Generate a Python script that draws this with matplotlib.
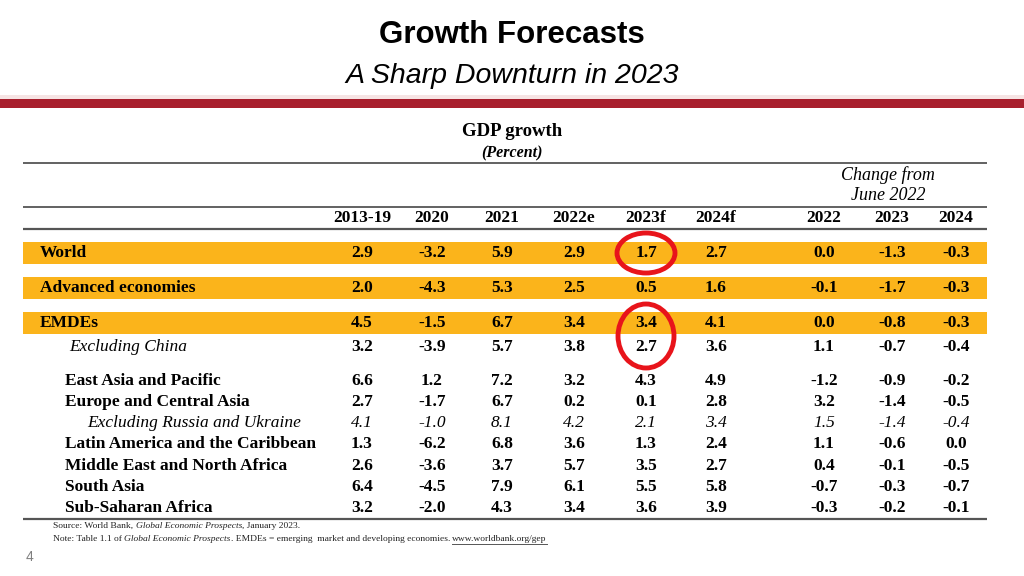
import matplotlib
matplotlib.use("Agg")
import matplotlib.pyplot as plt
from matplotlib.patches import Rectangle, Ellipse

# Table content
col_labels = ["2013-19", "2020", "2021", "2022e", "2023f", "2024f", "2022", "2023", "2024"]
row_labels = [
    "World", "Advanced economies", "EMDEs", "Excluding China",
    "East Asia and Pacific", "Europe and Central Asia", "Excluding Russia and Ukraine",
    "Latin America and the Caribbean", "Middle East and North Africa",
    "South Asia", "Sub-Saharan Africa",
]
values = [
    [2.9, -3.2, 5.9, 2.9, 1.7, 2.7, 0.0, -1.3, -0.3],
    [2.0, -4.3, 5.3, 2.5, 0.5, 1.6, -0.1, -1.7, -0.3],
    [4.5, -1.5, 6.7, 3.4, 3.4, 4.1, 0.0, -0.8, -0.3],
    [3.2, -3.9, 5.7, 3.8, 2.7, 3.6, 1.1, -0.7, -0.4],
    [6.6, 1.2, 7.2, 3.2, 4.3, 4.9, -1.2, -0.9, -0.2],
    [2.7, -1.7, 6.7, 0.2, 0.1, 2.8, 3.2, -1.4, -0.5],
    [4.1, -1.0, 8.1, 4.2, 2.1, 3.4, 1.5, -1.4, -0.4],
    [1.3, -6.2, 6.8, 3.6, 1.3, 2.4, 1.1, -0.6, 0.0],
    [2.6, -3.6, 3.7, 5.7, 3.5, 2.7, 0.4, -0.1, -0.5],
    [6.4, -4.5, 7.9, 6.1, 5.5, 5.8, -0.7, -0.3, -0.7],
    [3.2, -2.0, 4.3, 3.4, 3.6, 3.9, -0.3, -0.2, -0.1],
]
highlighted = ["World", "Advanced economies", "EMDEs"]
italic_rows = ["Excluding China", "Excluding Russia and Ukraine"]

# layout in pixels
col_x = [362, 432, 502, 574, 646, 716, 824, 892, 956]
row_y = [253, 288, 323, 347, 381, 402, 423, 444, 466, 487, 508]
label_x = {"World": 40, "Advanced economies": 40, "EMDEs": 40,
           "Excluding China": 69, "Excluding Russia and Ukraine": 87}

SERIF = ["Liberation Serif", "DejaVu Serif"]
SANS = ["Liberation Sans", "DejaVu Sans"]
ORANGE = "#FBB41B"
DARKRED = "#A81F2D"

fig = plt.figure(figsize=(10.24, 5.76), dpi=100)
ax = fig.add_axes([0, 0, 1, 1])
ax.set_xlim(0, 1024)
ax.set_ylim(576, 0)
ax.axis("off")

# Title block
ax.text(512, 35, "Growth Forecasts", ha="center", va="center", fontsize=22.5,
        fontweight="bold", family=SANS)
ax.text(512, 76, "A Sharp Downturn in 2023", ha="center", va="center", fontsize=20.5,
        style="italic", family=SANS)
ax.add_patch(Rectangle((0, 95), 1024, 4, color="#F6E4E4", lw=0))
ax.add_patch(Rectangle((0, 99), 1024, 9, color=DARKRED, lw=0))

# Table heading
ax.text(512, 131, "GDP growth", ha="center", va="center", fontsize=13.5,
        fontweight="bold", family=SERIF)
ax.text(512, 153, "(Percent)", ha="center", va="center", fontsize=11.5,
        fontweight="bold", style="italic", family=SERIF)
ax.text(888, 175, "Change from", ha="center", va="center", fontsize=13,
        style="italic", family=SERIF)
ax.text(888, 196, "June 2022", ha="center", va="center", fontsize=13,
        style="italic", family=SERIF)

for y, lw in [(163, 1.3), (207, 1.3), (229, 1.6), (519, 1.6)]:
    ax.plot([23, 987], [y, y], color="#555555", lw=lw, solid_capstyle="butt")

for x, lab in zip(col_x, col_labels):
    ax.text(x, 218, lab, ha="center", va="center", fontsize=12.5,
            fontweight="bold", family=SERIF)

# Orange highlight bands
for name in highlighted:
    y = row_y[row_labels.index(name)]
    ax.add_patch(Rectangle((23, y - 11), 964, 22, color=ORANGE, lw=0, zorder=0))

# Rows
for name, y, vals in zip(row_labels, row_y, values):
    italic = name in italic_rows
    lx = label_x.get(name, 65)
    ax.text(lx, y, name, ha="left", va="center", fontsize=12.5,
            fontweight="normal" if italic else "bold",
            style="italic" if italic else "normal", family=SERIF)
    val_italic = name == "Excluding Russia and Ukraine"
    for x, v in zip(col_x, vals):
        ax.text(x, y, f"{v:.1f}", ha="center", va="center", fontsize=12.5,
                fontweight="normal" if val_italic else "bold",
                style="italic" if val_italic else "normal", family=SERIF)

# Red circles around 2023f forecasts
ax.add_patch(Ellipse((646, 253), 58, 40, fill=False, ec="#E8141B", lw=3.5, zorder=5))
ax.add_patch(Ellipse((646, 336), 56, 64, fill=False, ec="#E8141B", lw=3.5, zorder=5))

# Footnotes, pieced together run by run
fig.canvas.draw()
renderer = fig.canvas.get_renderer()
inv = ax.transData.inverted()


def runs(x, y, parts, size=6.8):
    for txt, st, under in parts:
        t = ax.text(x, y, txt, ha="left", va="center", fontsize=size, style=st,
                    family=SERIF, color="#222222")
        bb = t.get_window_extent(renderer)
        x1 = inv.transform((bb.x1, bb.y0))[0]
        if under:
            ax.plot([x, x1], [y + 5, y + 5], color="#555555", lw=0.7)
        x = x1


runs(53, 526, [("Source: World Bank, ", "normal", False),
               ("Global Economic Prospects", "italic", False),
               (", January 2023.", "normal", False)])
runs(53, 539, [("Note: Table 1.1 of ", "normal", False),
               ("Global Economic Prospects", "italic", False),
               (". EMDEs = emerging  market and developing economies. ", "normal", False),
               ("www.worldbank.org/gep", "normal", True)])

ax.text(30, 557, "4", ha="center", va="center", fontsize=10, color="#7F7F7F",
        family=SANS)

fig.savefig("out.png", dpi=100)
